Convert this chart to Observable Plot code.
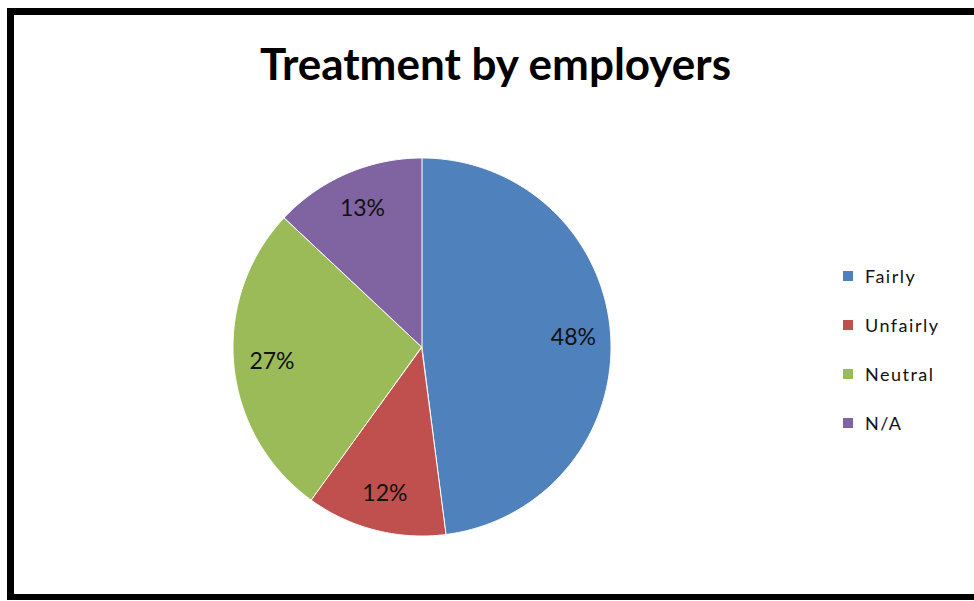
<!DOCTYPE html>
<html><head><meta charset="utf-8">
<script src="https://cdn.jsdelivr.net/npm/d3@7"></script>
<script src="https://cdn.jsdelivr.net/npm/@observablehq/plot@0.6"></script>
<style>
body{margin:0;background:#fff;}
#wrap{position:relative;width:974px;height:601px;overflow:hidden;font-family:Lato,sans-serif;}
#frame{position:absolute;left:7px;top:8px;width:1000px;height:592px;border-left:7px solid #000;border-top:7px solid #000;border-bottom:6px solid #000;box-sizing:border-box;}
#title{position:absolute;left:0;width:991px;top:37px;text-align:center;font-weight:bold;font-size:44px;line-height:normal;color:#000;}
#chart{position:absolute;left:0;top:0;}
#legend{position:absolute;left:843px;top:251px;}
#legend, #legend *{font-family:Lato,sans-serif !important;font-size:18px !important;color:#111 !important;}
#legend div[class$="-swatch"]{height:49px !important;display:flex;align-items:center;padding:0 !important;}
#legend div[class$="-swatch"] > svg{margin-right:12px !important;}
#legend div[class$="-swatch"]{letter-spacing:1.5px;}
</style>
</head><body>
<div id="wrap">
  <div id="frame"></div>
  <div id="chart"></div>
  <div id="title">Treatment by employers</div>
  <div id="legend"></div>
</div>
<script>
const categories = ["Fairly", "Unfairly", "Neutral", "N/A"];
const values = [48, 12, 27, 13];
const colors = ["#4F81BD", "#C0504D", "#9BBB59", "#8064A2"];

const total = d3.sum(values);
const arcs = d3.pie().sort(null).startAngle(0).endAngle(2 * Math.PI)(values);

// slice outline points on the unit circle (angle 0 at top, clockwise)
const slicePts = [];
arcs.forEach((a, i) => {
  const n = Math.max(2, Math.ceil((a.endAngle - a.startAngle) / (Math.PI / 360)));
  for (let k = 0; k <= n; k++) {
    const t = a.startAngle + (a.endAngle - a.startAngle) * k / n;
    slicePts.push({cat: categories[i], x: Math.sin(t), y: Math.cos(t)});
  }
});
const labelPts = arcs.map((a, i) => {
  const m = (a.startAngle + a.endAngle) / 2;
  return {cat: categories[i], x: 0.8 * Math.sin(m), y: 0.8 * Math.cos(m),
          text: Math.round(values[i] / total * 100) + "%"};
});

const chart = Plot.plot({
  width: 974, height: 601,
  marginLeft: 233, marginRight: 363, marginTop: 158, marginBottom: 65,
  x: {domain: [-1, 1], axis: null},
  y: {domain: [-1, 1], axis: null},
  color: {domain: categories, range: colors},
  style: {background: "transparent", fontFamily: "Lato, sans-serif"},
  marks: [
    Plot.area(slicePts, {x1: d => 0, y1: d => 0, x2: "x", y2: "y", z: "cat", fill: "cat",
      stroke: "white", strokeWidth: 1, curve: "linear"}),
    Plot.text(labelPts, {x: "x", y: "y", text: "text", fill: "#111", fontSize: 23})
  ]
});
document.getElementById("chart").append(chart);

const legend = Plot.legend({
  legend: "swatches", columns: 1, swatchSize: 10, className: "lg",
  color: {domain: categories, range: colors}
});
document.getElementById("legend").append(legend);
</script>
</body></html>
